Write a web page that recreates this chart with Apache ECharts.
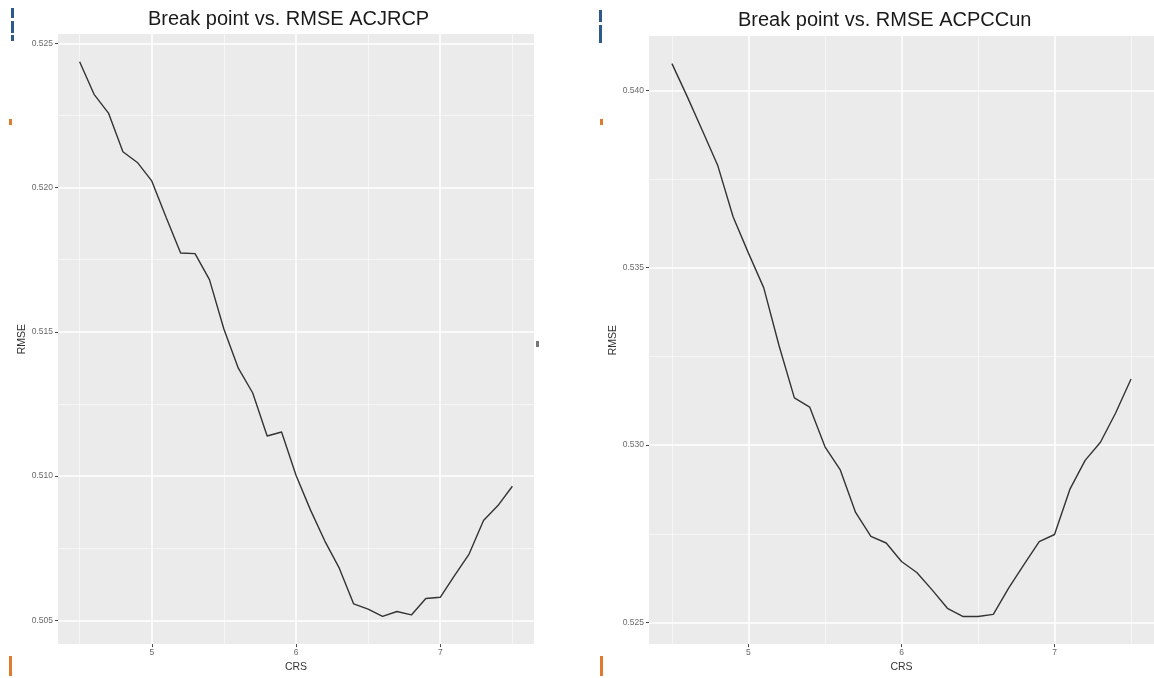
<!DOCTYPE html>
<html>
<head>
<meta charset="utf-8">
<script src="https://cdn.jsdelivr.net/npm/echarts@6/dist/echarts.min.js"></script>
<style>
  html, body { margin: 0; padding: 0; background: #fff; }
  #chart { width: 1154px; height: 678px; }
</style>
</head>
<body>
<div id="chart"></div>
<script>
// Break point (CRS) values tried
const crs = [4.5, 4.6, 4.7, 4.8, 4.9, 5.0, 5.1, 5.2, 5.3, 5.4, 5.5,
             5.6, 5.7, 5.8, 5.9, 6.0, 6.1, 6.2, 6.3, 6.4, 6.5,
             6.6, 6.7, 6.8, 6.9, 7.0, 7.1, 7.2, 7.3, 7.4, 7.5];

// RMSE at each break point, ACJRCP
const rmseACJRCP = [0.52436, 0.52323, 0.52258, 0.52124, 0.52087, 0.52023, 0.51896, 0.51773, 0.51771, 0.51681, 0.51510,
                    0.51374, 0.51288, 0.51139, 0.51153, 0.51003, 0.50883, 0.50775, 0.50681, 0.50557, 0.50539,
                    0.50514, 0.50531, 0.50519, 0.50576, 0.50580, 0.50656, 0.50730, 0.50846, 0.50898, 0.50965];

// RMSE at each break point, ACPCCun
const rmseACPCCun = [0.54075, 0.53982, 0.53885, 0.53787, 0.53643, 0.53541, 0.53443, 0.53280, 0.53133, 0.53107, 0.52995,
                     0.52930, 0.52810, 0.52743, 0.52724, 0.52672, 0.52641, 0.52592, 0.52540, 0.52517, 0.52517,
                     0.52523, 0.52597, 0.52663, 0.52728, 0.52748, 0.52875, 0.52957, 0.53008, 0.53091, 0.53186];

// Axis breaks (major labelled, minor unlabelled)
const xBreaks = [5, 6, 7];
const xMinorBreaks = [4.5, 5.5, 6.5, 7.5];
const yBreaksACJRCP = [0.505, 0.510, 0.515, 0.520, 0.525];
const yMinorACJRCP = [0.5075, 0.5125, 0.5175, 0.5225];
const yBreaksACPCCun = [0.525, 0.530, 0.535, 0.540];
const yMinorACPCCun = [0.5275, 0.5325, 0.5375];

const titles = ['Break point vs. RMSE ACJRCP', 'Break point vs. RMSE ACPCCun'];

// continuous scale limits padded by 5% of the data range on each side
function padded(values) {
  const lo = Math.min(...values), hi = Math.max(...values);
  const pad = (hi - lo) * 0.05;
  return [lo - pad, hi + pad];
}

const FONT = 'Liberation Sans, Arial, Helvetica, sans-serif';
const PANEL_BG = '#EBEBEB';

function majorX(gridIndex, lim) {
  return {
    type: 'value', gridIndex, min: lim[0], max: lim[1],
    name: 'CRS', nameLocation: 'middle', nameGap: 13,
    nameTextStyle: { fontFamily: FONT, fontSize: 10.5, color: '#333' },
    axisLine: { show: false },
    axisTick: { show: true, length: 3, customValues: xBreaks, lineStyle: { color: '#444', width: 1 } },
    axisLabel: { show: true, customValues: xBreaks, margin: 4, fontFamily: FONT, fontSize: 8.5, color: '#6a6a6a',
                 formatter: v => String(v) },
    splitLine: { show: true, lineStyle: { color: '#fff', width: 1.5 } }
  };
}
function minorX(gridIndex, lim) {
  return {
    type: 'value', gridIndex, min: lim[0], max: lim[1],
    axisLine: { show: false },
    axisTick: { show: false, customValues: xMinorBreaks },
    axisLabel: { show: false, customValues: xMinorBreaks },
    splitLine: { show: true, lineStyle: { color: '#fff', width: 0.7, opacity: 0.8 } }
  };
}
function majorY(gridIndex, lim, breaks) {
  return {
    type: 'value', gridIndex, min: lim[0], max: lim[1],
    name: 'RMSE', nameLocation: 'middle', nameGap: 26, nameRotate: 90,
    nameTextStyle: { fontFamily: FONT, fontSize: 10.5, color: '#333' },
    axisLine: { show: false },
    axisTick: { show: true, length: 3, customValues: breaks, lineStyle: { color: '#444', width: 1 } },
    axisLabel: { show: true, customValues: breaks, margin: 5, fontFamily: FONT, fontSize: 8.5, color: '#6a6a6a',
                 formatter: v => v.toFixed(3) },
    splitLine: { show: true, lineStyle: { color: '#fff', width: 1.5 } }
  };
}
function minorY(gridIndex, lim, breaks) {
  return {
    type: 'value', gridIndex, min: lim[0], max: lim[1],
    axisLine: { show: false },
    axisTick: { show: false, customValues: breaks },
    axisLabel: { show: false, customValues: breaks },
    splitLine: { show: true, lineStyle: { color: '#fff', width: 0.7, opacity: 0.8 } }
  };
}

const xLim = padded(crs);
const yLimA = padded(rmseACJRCP);
const yLimB = padded(rmseACPCCun);

const toPairs = vals => crs.map((x, i) => [x, vals[i]]);

const lineSeries = (xi, yi, vals) => ({
  type: 'line', xAxisIndex: xi, yAxisIndex: yi,
  data: toPairs(vals), showSymbol: false, symbol: 'none',
  lineStyle: { color: '#333', width: 1.4 }, silent: true
});

// small coloured edge marks along the left side of each panel image
const edgeMarks = [
  { x: 11, y: 8, w: 3, h: 10, c: '#2d5a8a' }, { x: 11, y: 21, w: 3, h: 12, c: '#2d5a8a' }, { x: 11, y: 35, w: 3, h: 6, c: '#2d5a8a' },
  { x: 9, y: 119, w: 3, h: 6, c: '#e07a2e' }, { x: 9, y: 656, w: 3, h: 20, c: '#e07a2e' },
  { x: 599, y: 10, w: 3, h: 12, c: '#2d5a8a' }, { x: 599, y: 25, w: 3, h: 18, c: '#2d5a8a' },
  { x: 600, y: 119, w: 3, h: 6, c: '#e07a2e' }, { x: 600, y: 656, w: 3, h: 20, c: '#e07a2e' },
  { x: 536, y: 341, w: 3, h: 6, c: '#777' }
];

const titleStyle = { fontFamily: FONT, fontSize: 20, fontWeight: 'normal', color: '#1a1a1a' };

const option = {
  animation: false,
  backgroundColor: '#fff',
  title: [
    { text: titles[0], left: 148, top: 9, padding: 0, textStyle: titleStyle },
    { text: titles[1], left: 738, top: 10, padding: 0, textStyle: titleStyle }
  ],
  grid: [
    { left: 58, top: 34, width: 476, height: 619, show: true, backgroundColor: PANEL_BG, borderWidth: 0, containLabel: false },
    { left: 649, top: 36, width: 508, height: 613, show: true, backgroundColor: PANEL_BG, borderWidth: 0, containLabel: false }
  ],
  xAxis: [
    majorX(0, xLim), minorX(0, xLim),
    majorX(1, xLim), minorX(1, xLim)
  ],
  yAxis: [
    majorY(0, yLimA, yBreaksACJRCP), minorY(0, yLimA, yMinorACJRCP),
    majorY(1, yLimB, yBreaksACPCCun), minorY(1, yLimB, yMinorACPCCun)
  ],
  series: [
    lineSeries(0, 0, rmseACJRCP),
    lineSeries(2, 2, rmseACPCCun)
  ],
  graphic: edgeMarks.map(m => ({
    type: 'rect', shape: { x: m.x, y: m.y, width: m.w, height: m.h }, style: { fill: m.c }, silent: true
  }))
};

const chart = echarts.init(document.getElementById('chart'), null, { renderer: 'canvas' });
chart.setOption(option);
</script>
</body>
</html>
